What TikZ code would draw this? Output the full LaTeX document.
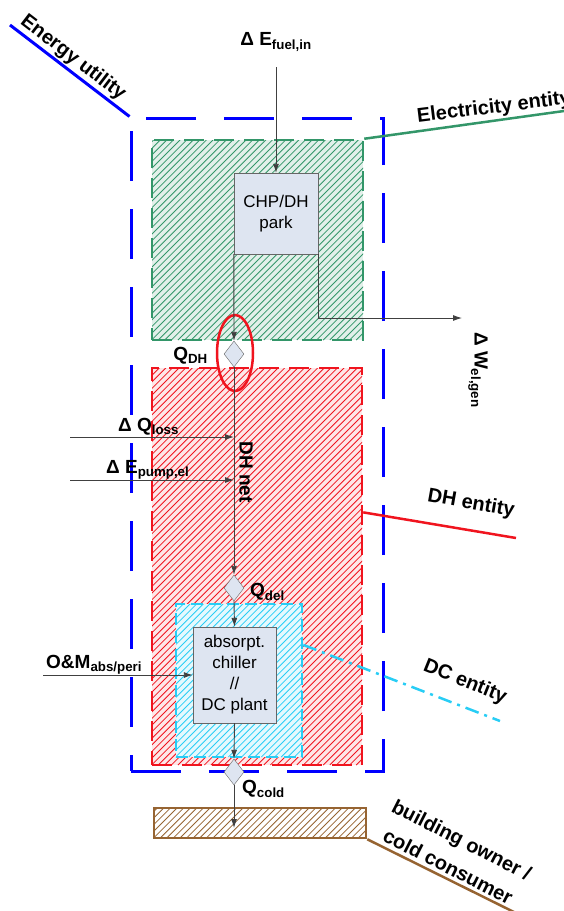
\documentclass[tikz,border=0pt]{standalone}
\usepackage{fontspec}
\setmainfont{Liberation Sans}
\usetikzlibrary{arrows.meta,shapes.geometric}

\definecolor{utilblue}{RGB}{0,0,255}
\definecolor{elgreen}{RGB}{51,150,105}
\definecolor{dhred}{RGB}{240,20,30}
\definecolor{dccyan}{RGB}{40,205,245}
\definecolor{ownbrown}{RGB}{150,100,50}
\definecolor{boxfill}{RGB}{222,229,241}

\newcommand{\entfont}{\fontsize{20}{30}\selectfont\bfseries}
\newcommand{\qfont}{\fontsize{19}{22}\selectfont\bfseries}
\newcommand{\boxfont}{\fontsize{17}{21}\selectfont}

\begin{document}
\begin{tikzpicture}[x=1pt,y=-1pt,
  hatch/.style={path picture={\foreach \k in {0,6.6,...,1100}{
      \draw[#1,solid,line width=0.8pt] ([xshift=\k pt-700pt]path picture bounding box.south west) -- ++(700,-700);}}},
  zone/.style={inner sep=0pt,line width=2.5pt,dash pattern=on 20pt off 10pt},
  flow/.style={black!75,line width=0.9pt,-{Latex[length=9pt,width=6pt]}},
  unit/.style={draw=black!60,fill=boxfill,align=center,font=\boxfont,inner sep=0pt},
  valve/.style={diamond,draw=black!60,fill=boxfill,inner sep=0pt,minimum width=20pt,minimum height=26pt},
  entlabel/.style={font=\entfont,inner sep=0pt}]
  \useasboundingbox (0,0) rectangle (564,911);

  \node[draw=utilblue,line width=3pt,dash pattern=on 50pt off 28pt,inner sep=0pt,
    minimum width=252pt,minimum height=653pt] (utility) at (257,444.5) {};
  \node[zone,draw=elgreen,fill=elgreen!14,hatch=elgreen,
    minimum width=211pt,minimum height=200pt] (elent) at (257.5,240) {};
  \node[zone,draw=dhred,fill=dhred!10,hatch=dhred,
    minimum width=210pt,minimum height=397pt] (dhent) at (257,566.5) {};
  \node[zone,draw=dccyan,dash pattern=on 12pt off 6pt,fill=dccyan!12,hatch=dccyan,
    minimum width=126pt,minimum height=153pt] (dcent) at (239,680.5) {};
  \node[draw=ownbrown,line width=2.5pt,fill=white,hatch=ownbrown,
    minimum width=212pt,minimum height=30pt] (owner) at (260,823) {};

  \node[unit,minimum width=84pt,minimum height=81pt] (chp) at (276,213.5) {CHP/DH\\park};
  \node[unit,minimum width=83pt,minimum height=96pt] (chiller) at (234.5,675)
    {absorpt.\\chiller\\//\\DC plant};
  \node[valve] (qdh) at (234,354) {};
  \node[valve] (qdel) at (234,588) {};
  \node[valve] (qcold) at (234,772) {};
  \draw[dhred,line width=2.5pt] (235,353) ellipse [x radius=18,y radius=38];

  \node[font=\qfont,inner sep=0pt] (fuel) at (276,42) {Δ E\textsubscript{fuel,in}};
  \node[font=\qfont,inner sep=0pt,anchor=east] (qdhlabel) at (208,356) {Q\textsubscript{DH}};
  \node[font=\qfont,inner sep=0pt,anchor=west] (qdellabel) at (250,592) {Q\textsubscript{del}};
  \node[font=\qfont,inner sep=0pt,anchor=west] (qcoldlabel) at (242,789) {Q\textsubscript{cold}};
  \node[font=\qfont,inner sep=0pt,anchor=base west] (losslabel) at (118,431) {Δ Q\textsubscript{loss}};
  \node[font=\qfont,inner sep=0pt,anchor=base west] (pumplabel) at (106,473) {Δ E\textsubscript{pump,el}};
  \node[font=\qfont,inner sep=0pt,anchor=base west] (omlabel) at (46,668) {O\&M\textsubscript{abs/peri}};
  \node[font=\qfont,inner sep=0pt,rotate=-90] (dhnet) at (246,472) {DH net};
  \node[font=\qfont,inner sep=0pt,rotate=-90] (wlabel) at (478,370) {Δ W\textsubscript{el,gen}};

  \coordinate (fuelin) at (276,67);
  \coordinate (welout) at (462,318);
  \coordinate (lossin) at (70,437);
  \coordinate (pumpin) at (70,480);
  \coordinate (omin) at (43,675);
  \coordinate (coldin) at (234,828);
  \draw[flow] (fuelin) -- (chp);
  \draw[flow] (chp.south west) -- (qdh.north);
  \draw[flow] (chp.south east) |- (welout);
  \draw[flow] (qdh.south) -- (qdel.north);
  \draw[flow] (lossin) -- (lossin -| qdh);
  \draw[flow] (pumpin) -- (pumpin -| qdh);
  \draw[flow] (qdel.south) -- (chiller.north);
  \draw[flow] (omin) -- (chiller.west);
  \draw[flow] (chiller.south) -- (qcold.north);
  \draw[flow] (qcold.south) -- (coldin);

  \coordinate (utilend) at (10,25);
  \coordinate (elend) at (600,106);
  \coordinate (dhend) at (516,538);
  \coordinate (dcend) at (500,721);
  \coordinate (ownend) at (530,920);
  \draw[utilblue,line width=3pt] (utility.north west) -- (utilend);
  \draw[elgreen,line width=2.5pt] (elent.north east) -- (elend);
  \draw[dhred,line width=2.5pt] (dhent.27) -- (dhend);
  \draw[dccyan,line width=2.5pt,dash pattern=on 14pt off 6pt on 3pt off 6pt] (dcent.29) -- (dcend);
  \draw[ownbrown,line width=2.5pt] (owner.south east) -- (ownend);
  \node[entlabel,rotate=-37.5] (utiltext) at (73,58) {Energy utility};
  \node[entlabel,rotate=7] (eltext) at (494,108) {Electricity entity};
  \node[entlabel,rotate=-10] (dhtext) at (471,504) {DH entity};
  \node[entlabel,rotate=-22] (dctext) at (465,682) {DC entity};
  \node[entlabel,rotate=-27,align=center] (owntext) at (455,853) {building owner /\\cold consumer};
\end{tikzpicture}
\end{document}
